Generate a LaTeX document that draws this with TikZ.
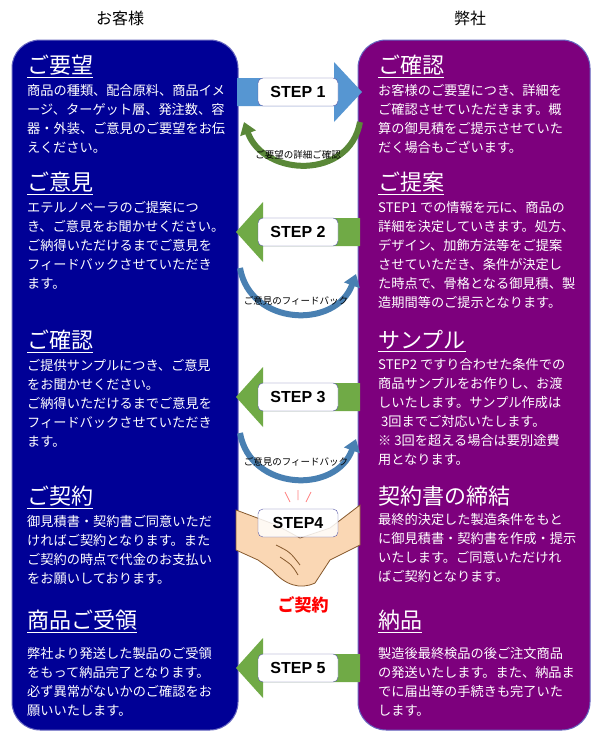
\documentclass[tikz,border=0pt]{standalone}
\usepackage{fontspec}
\setmainfont{Noto Sans CJK JP}
\newfontfamily\stepfont{Liberation Sans}
\usetikzlibrary{positioning, arrows.meta}
\definecolor{custblue}{RGB}{0,0,150}
\definecolor{ourpurple}{RGB}{125,0,125}
\definecolor{arrblue}{RGB}{86,150,210}
\definecolor{arrgreen}{RGB}{112,170,70}
\definecolor{skin}{RGB}{250,215,180}
\tikzstyle{panel} = [rounded corners=28pt, draw=custblue!60, line width=1pt]
\tikzstyle{ttl} = [anchor=north west, text=white, font=\fontsize{22}{24}\selectfont, inner sep=0pt]
\tikzstyle{body} = [text=white, align=left, font=\fontsize{13.2}{19}\selectfont, inner sep=0pt]
\tikzstyle{stepbox} = [rectangle, rounded corners=5pt, draw=gray!70!blue, fill=white, minimum width=80pt, minimum height=28pt, font=\stepfont\bfseries\fontsize{16}{18}\selectfont]
\tikzstyle{loop} = [line width=6pt, -{Triangle[length=12pt,width=16pt]}]
\tikzstyle{looplabel} = [font=\fontsize{9.5}{10}\selectfont, inner sep=0pt]
\newcommand{\rightarr}[2]{\fill[#2] (237,#1-14) -- (334,#1-14) -- (334,#1-30) -- (362,#1) -- (334,#1+30) -- (334,#1+14) -- (237,#1+14) -- cycle;}
\newcommand{\leftarr}[2]{\fill[#2] (360,#1-14) -- (263,#1-14) -- (263,#1-30) -- (236,#1) -- (263,#1+30) -- (263,#1+14) -- (360,#1+14) -- cycle;}
\begin{document}
\begin{tikzpicture}[x=1pt, y=-1pt]
	\useasboundingbox (0,0) rectangle (602,732);
	\fill[white] (0,0) rectangle (602,732);
	\node (cust) at (120,18) {\fontsize{16}{18}\selectfont お客様};
	\node (us) at (470,18) {\fontsize{16}{18}\selectfont 弊社};
	\fill[panel, fill=custblue] (12,40) rectangle (238,730);
	\fill[panel, fill=ourpurple] (358,40) rectangle (590,730);

	% customer side
	\node (l1) [ttl] at (27,55) {\underline{ご要望}};
	\node (l1b) [body, below=6pt of l1.south west, anchor=north west] {商品の種類、配合原料、商品イメ\\ージ、ターゲット層、発注数、容\\器・外装、ご意見のご要望をお伝\\えください。};
	\node (l2) [ttl] at (27,172) {\underline{ご意見}};
	\node (l2b) [body, below=6pt of l2.south west, anchor=north west] {エテルノベーラのご提案につ\\き、ご意見をお聞かせください。\\ご納得いただけるまでご意見を\\フィードバックさせていただき\\ます。};
	\node (l3) [ttl] at (27,330) {\underline{ご確認}};
	\node (l3b) [body, below=6pt of l3.south west, anchor=north west] {ご提供サンプルにつき、ご意見\\をお聞かせください。\\ご納得いただけるまでご意見を\\フィードバックさせていただき\\ます。};
	\node (l4) [ttl] at (27,486) {\underline{ご契約}};
	\node (l4b) [body, below=6pt of l4.south west, anchor=north west] {御見積書・契約書ご同意いただ\\ければご契約となります。また\\ご契約の時点で代金のお支払い\\をお願いしております。};
	\node (l5) [ttl] at (27,610) {\underline{商品ご受領}};
	\node (l5b) [body, below=14pt of l5.south west, anchor=north west] {弊社より発送した製品のご受領\\をもって納品完了となります。\\必ず異常がないかのご確認をお\\願いいたします。};

	% our side
	\node (r1) [ttl] at (378,55) {\underline{ご確認}};
	\node (r1b) [body, below=6pt of r1.south west, anchor=north west] {お客様のご要望につき、詳細を\\ご確認させていただきます。概\\算の御見積をご提示させていた\\だく場合もございます。};
	\node (r2) [ttl] at (378,172) {\underline{ご提案}};
	\node (r2b) [body, below=6pt of r2.south west, anchor=north west] {STEP1 での情報を元に、商品の\\詳細を決定していきます。処方、\\デザイン、加飾方法等をご提案\\させていただき、条件が決定し\\た時点で、骨格となる御見積、製\\造期間等のご提示となります。};
	\node (r3) [ttl] at (378,330) {\underline{サンプル}};
	\node (r3b) [body, below=6pt of r3.south west, anchor=north west] {STEP2 ですり合わせた条件での\\商品サンプルをお作りし、お渡\\しいたします。サンプル作成は\\\ 3回までご対応いたします。\\※ 3回を超える場合は要別途費\\用となります。};
	\node (r4) [ttl] at (378,486) {契約書の締結};
	\node (r4b) [body, below=6pt of r4.south west, anchor=north west] {最終的決定した製造条件をもと\\に御見積書・契約書を作成・提示\\いたします。ご同意いただけれ\\ばご契約となります。};
	\node (r5) [ttl] at (378,610) {\underline{納品}};
	\node (r5b) [body, below=14pt of r5.south west, anchor=north west] {製造後最終検品の後ご注文商品\\の発送いたします。また、納品ま\\でに届出等の手続きも完了いた\\します。};

	% step arrows
	\rightarr{92}{arrblue}
	\leftarr{232}{arrgreen}
	\leftarr{397}{arrgreen}
	\leftarr{668}{arrgreen}
	\node (s1) [stepbox] at (298,92) {STEP 1};
	\node (s2) [stepbox] at (298,232) {STEP 2};
	\node (s3) [stepbox] at (298,397) {STEP 3};
	\node (s5) [stepbox] at (298,668) {STEP 5};

	% feedback loops
	\coordinate (f1a) at (360,122);
	\coordinate (f1b) at (244,122);
	\draw[loop, arrgreen!80!black] (f1a) to[out=-100, in=-70, looseness=1.3] (f1b);
	\node (f1) [looplabel] at (298,155) {ご要望の詳細ご確認};
	\coordinate (f2a) at (240,268);
	\coordinate (f2b) at (356,274);
	\draw[loop, arrblue!85!black] (f2a) to[out=-80, in=-110, looseness=1.3] (f2b);
	\node (f2) [looplabel] at (296,301) {ご意見のフィードバック};
	\coordinate (f3a) at (240,433);
	\coordinate (f3b) at (356,439);
	\draw[loop, arrblue!85!black] (f3a) to[out=-80, in=-110, looseness=1.3] (f3b);
	\node (f3) [looplabel] at (296,462) {ご意見のフィードバック};

	% handshake
	\filldraw[fill=skin, draw=brown!70!black, line width=0.8pt]
		(236,510) -- (276,525) -- (300,538) -- (330,528) -- (360,505) -- (360,545)
		-- (330,560) -- (315,583) .. controls (300,590) and (285,585) .. (272,570)
		-- (258,560) -- (236,550) -- cycle;
	\draw[brown!70!black, line width=0.8pt] (276,545) .. controls (290,552) .. (300,565)
		(280,557) .. controls (292,565) .. (298,575);
	\draw[red!50, line width=0.8pt] (298,490) -- (298,500) (285,492) -- (290,502) (311,492) -- (306,502);
	\node (s4) [stepbox, fill=white, fill opacity=0.85, text opacity=1] at (298,523) {STEP4};
	\node (deal) at (303,605) {\fontsize{17}{18}\selectfont\bfseries\color{red}ご契約};
\end{tikzpicture}
\end{document}
